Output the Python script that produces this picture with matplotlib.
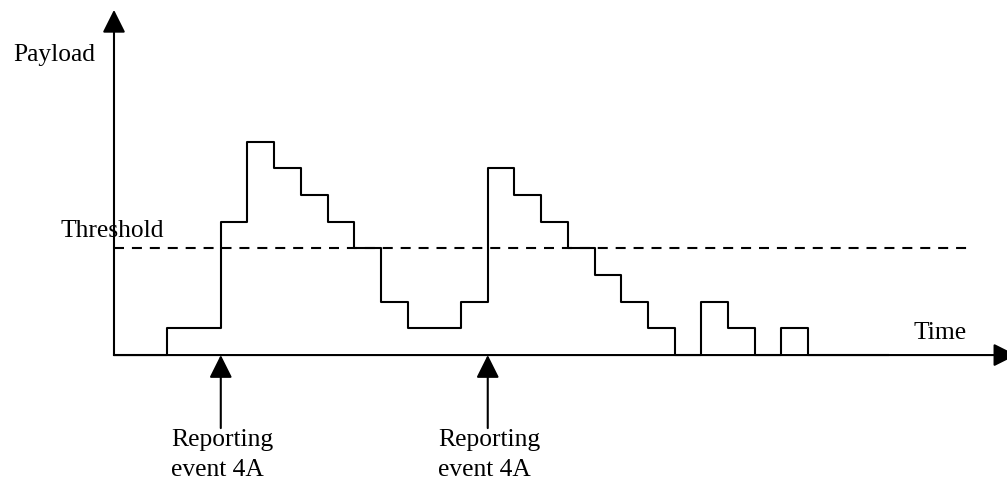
import matplotlib
matplotlib.use('Agg')
import matplotlib.pyplot as plt

# step payload: change points (time units) and level held on each interval
edges = [0, 2, 4, 5, 6, 7, 8, 9, 10, 11, 13, 14, 15, 16, 17, 18, 19, 20, 21, 22, 23, 24, 25, 26, 29]
levels = [0, 1, 5, 8, 7, 6, 5, 4, 2, 1, 2, 7, 6, 5, 4, 3, 2, 1, 0, 2, 1, 0, 1, 0]
threshold = 4
threshold_end = 32
report_times = [4, 14]
report_label = 'Reporting\nevent 4A'

plt.rcParams['font.family'] = ['Liberation Serif', 'DejaVu Serif']

fig = plt.figure(figsize=(10.07, 4.95), dpi=100)
ax = fig.add_axes([0, 0, 1, 1])
ax.set_xlim(-4.27, 33.45)
ax.set_ylim(-5.25, 13.32)
ax.axis('off')

lw = 1.5
fs = 18.4
head = dict(arrowstyle='-|>,head_length=1.0,head_width=0.5', mutation_scale=14,
            color='black', lw=lw, shrinkA=0, shrinkB=0)

# axes with arrow heads
ax.annotate('', xy=(0, 12.95), xytext=(0, 0), arrowprops=head, annotation_clip=False)
ax.annotate('', xy=(33.8, 0), xytext=(0, 0), arrowprops=head, annotation_clip=False)

# payload step curve
ax.step(edges, levels + [levels[-1]], where='post', color='black', lw=lw)

# threshold
ax.plot([0, threshold_end], [threshold, threshold], color='black', lw=lw,
        dashes=(4.8, 3.8))

# reporting events
for t in report_times:
    ax.annotate('', xy=(t, 0), xytext=(t, -2.74), arrowprops=head)
    ax.text(t - 1.87, -4.54, report_label, fontsize=fs, va='baseline', ha='left',
            linespacing=1.47)

ax.text(-3.78, 11.03, 'Payload', fontsize=fs, va='baseline', ha='left')
ax.text(-2.02, 4.43, 'Threshold', fontsize=fs, va='baseline', ha='left')
ax.text(29.93, 0.6, 'Time', fontsize=fs, va='baseline', ha='left')

fig.savefig('out.png', dpi=100)
